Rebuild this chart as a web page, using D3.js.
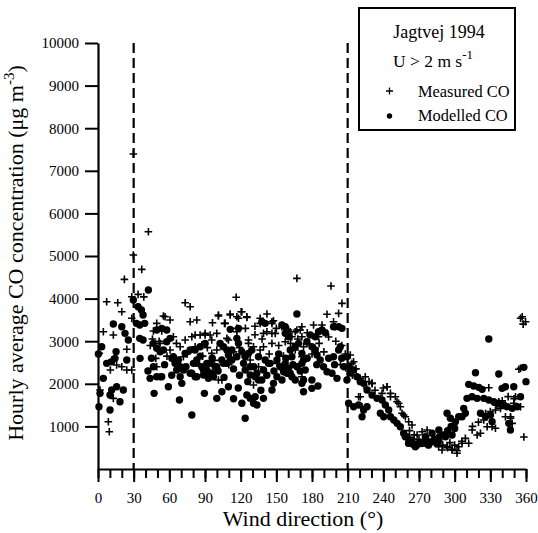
<!DOCTYPE html>
<html>
<head>
<meta charset="utf-8">
<script src="https://cdn.jsdelivr.net/npm/d3@7"></script>
<style>
  body { margin: 0; background: #fff; }
  svg { display: block; }
  text { font-family: "Liberation Serif", "Times New Roman", serif; fill: #000; }
</style>
</head>
<body>
<svg id="chart" width="538" height="533"></svg>
<script>
// ---------- data ----------
const xTicks = [0, 30, 60, 90, 120, 150, 180, 210, 240, 270, 300, 330, 360];
const yTicks = [1000, 2000, 3000, 4000, 5000, 6000, 7000, 8000, 9000, 10000];
const sectorBounds = [30, 210];

// Measured CO: [wind direction (deg), concentration (ug/m3)]
const measuredCO = [
[29.7,7393],[42.4,5570],[29.7,5022],[36.8,4687],[22.2,4452],[7.3,3927],[16.6,3903],[20,3692],[28.4,4044],[33.7,4100],[38.5,4040],[28.4,3537],[4.5,3223],[12.9,3145],[24.2,2810],[73.3,3903],[77.5,3810],[77.5,3457],[83.1,3497],[55,3590],[60.6,3497],[49.4,3419],[46.6,3240],[53.6,3240],[45.8,3050],[51.4,3000],[1.1,2715],[11.5,2558],[15.7,2441],[20,2401],[24.2,2323],[28.4,2323],[10.4,2323],[1.7,1854],[12.9,1659],[8.7,1110],[9.5,875],[52.2,2950],[60.6,2793],[63.4,3105],[69.1,2870],[71.8,2636],[73.3,3028],[78.9,3105],[81.7,2870],[49.4,2401],[52.2,2166],[48.6,2598],
[167.3,4475],[116.2,4030],[101.3,3615],[111.2,3638],[120.4,3692],[96.3,3434],[106.4,3419],[118.2,3537],[125.2,3560],[136.4,3537],[142.1,3638],[147.6,3481],[142.1,3223],[149.1,3184],[146.3,3419],[154.7,3340],[160.3,3262],[165.9,3223],[170.1,3262],[81.7,3145],[85.9,3145],[90.1,3145],[94.3,3145],[87.3,2910],[95.7,2715],[99.9,2793],[109.7,3028],[116.8,3302],[126.6,2950],[130.8,2870],[136.4,2793],[139.2,2870],[146.3,2950],[123.8,2636],[128,2558],[135,2401],[150.5,2480],[101.3,2089],[104.2,2089],[130.8,1971],[157.5,2988],[163.1,3105],[171.5,3105],[165.9,2793],[171.5,2636],[171.5,2166],
[196,4295],[205.2,3889],[192.6,3631],[202.4,3654],[181.3,3380],[188.4,3380],[198.1,3457],[199.6,3340],[172.9,2870],[175.7,2950],[182.7,2833],[185.5,3105],[212.2,2676],[213.6,2480],[220.6,2128],[230.5,2011],[238.9,1776],[243.2,1932],[246,1697],[250.1,1697],[252.9,1542],[219.2,1697],[222.1,1462],[255.7,1307],[258.5,1227],
[355.4,3537],[357.6,3400],[358.2,750],[354,2340],[328.7,1908],[338.5,1462],[337.1,1580],[334.3,1385],[342.7,1227],[347,1190],[348.4,1072],[324.5,1150],[327.3,993],[331.5,993],[334.3,955],[314.7,915],[318.9,798],[321.7,838],[309,720],[311.8,603],[306.2,603],[303.4,523],[302,368],[297.8,446],[293.6,523],[289.4,446],[286.5,523],[283.8,603],[261.3,1110],[264.1,1033],[276.8,915],[272.6,875],[268.4,798],[351.2,1697],[349.7,1542],
[56.4,3575],[101.3,3590],[106.9,3419],[111.2,3615],[116.8,3575],[121,3692],[125.2,3575],[136.4,3419],[146.3,3457],[90.1,3184],[95.7,3028],[99.9,3184],[108.4,3067],[116.8,3223],[126.6,3028],[139.2,3184],[146.3,3184],[161.7,3223],[167.3,3262],[171.5,3340],
[215,2518],[219.2,2128],[230.5,2011],[243.2,1932],[246,1776],[237.5,1659],[251.5,1580],[220.6,1697],[254.3,1462],[257.1,1267],[224.8,2166],[338.5,1424],[347,1227],[355.4,1462],[355.4,2363],[356.8,3575],[359.6,3457],
[262,900],[266,800],[270,700],[274,650],[278,700],[282,650],[286,600],[290,560],[294,500],[298,460],[302,430],[306,650],[300,560],[296,620],
[205,2900],[208,2700],[211,2300],[214,2200],[217,2350],[226,1900],[233,1850],[240,1900],[228,2050],
[315,1000],[320,1100],[326,1300],[330,1350],[335,1500],[340,1600],[345,1700],[350,1650],
[44,2900],[58,2650],[66,2950],[75,2700],[84,2600],[92,2850],[98,2550],[103,2900],[114,2750],[119,2850],[124,3300],[132,3150],[138,3050],[144,2700],[152,2900],[156,2650],[162,2950],[168,3050],[176,3200],[180,2700],[186,2950],[190,2750],[194,3100],[200,3000],[204,2450],[132,3350],[150,3300],[110,2450],[88,2650],[68,2450]
];

// Modelled CO: [wind direction (deg), concentration (ug/m3)]
const modelledCO = [
[29.7,3967],[42.4,4201],[33.7,3810],[36.5,3732],[37.9,3615],[39.3,3419],[35.1,3380],[32.3,3419],[12.9,3403],[20,3340],[22.7,3184],[25.5,3028],[35.1,3067],[37.9,3028],[3.1,2870],[0.3,2699],[15.2,2753],[14.3,2598],[7.3,2480],[11.5,2518],[24.2,2558],[35.4,2598],[4.5,2128],[1.7,1776],[0.8,1462],[11.5,1854],[10.1,1737],[15.7,1932],[21.3,1854],[18.5,1580],[10.1,1385],[49.4,3262],[53.6,3302],[57.8,3262],[46.6,2950],[49.4,2833],[52.2,2753],[55,2793],[57.8,2988],[60.6,3067],[46.6,2401],[43.8,2128],[49.4,2166],[53.6,2166],[47.2,1776],[59.2,1932],[62.1,2598],[64.8,2480],[66.2,2323],[69.1,2166],[70.5,2011],[68.5,1619],[73.3,2715],[77.5,2793],[80.3,2480],[83.1,2558],[78.9,2246],[81.7,2166],[78.9,1267],[63.4,2636],[67.6,2558],
[167.3,3638],[111.2,3278],[118.2,3302],[154.7,3380],[157.5,3340],[137.8,3457],[140.6,3419],[102.7,2950],[105.5,2870],[108.4,2793],[109.7,2676],[112.6,2793],[116.8,3067],[118.2,2950],[81.7,2793],[85.9,2870],[90.1,2950],[83.1,2480],[87.3,2401],[91.5,2323],[95.7,2246],[94.3,2480],[98.5,2401],[88.7,2206],[92.9,2128],[97.1,2166],[104.1,2558],[108.4,2480],[112.6,2558],[121,2753],[123.8,2636],[126.6,2715],[129.4,2793],[123.8,2323],[128,2206],[132.2,2166],[135,2089],[137.8,2089],[135,2636],[140.6,2558],[143.4,2480],[147.6,2011],[146.3,1854],[125.2,1737],[128,1659],[130.8,1542],[133.7,1502],[132.2,1697],[121,1542],[139.2,1659],[123.8,1190],[89.5,1776],[99.9,1659],[104.2,1815],[109.7,1932],[153.3,2401],[156.1,2284],[157.5,2480],[160.3,2363],[163.1,2166],[165.9,2089],[158.9,2246],[150.5,2166],[154.7,2089],[161.7,2793],[165.9,2870],[168.7,2950],[163.1,2636],[171.5,2715],[157.5,3184],[160.3,3105],[171.5,2011],[172.9,1815],
[178.5,3145],[182.7,3105],[185.5,3223],[188.4,3262],[191.2,3199],[198.1,3340],[202.4,3340],[205.2,3302],[175.7,2988],[179.9,2870],[182.7,2793],[184.2,2676],[186.9,2558],[189.7,2401],[192.6,2284],[196.8,2246],[201,2128],[198.1,2636],[202.4,2793],[203.8,2870],[171.5,2480],[174.3,2323],[172.9,2089],[179.9,2089],[179.9,1893],[209.4,2636],[210.8,2401],[209.4,2089],[215,2323],[217.8,2166],[220.6,2050],[223.4,2011],[210.8,1542],[215,1462],[219.2,1502],[223.4,1385],[226.3,1462],[222.1,1227],[226.3,1854],[230.5,1737],[234.7,1659],[238.9,1619],[241.7,1502],[244.5,1385],[237.5,1307],[240.3,1227],[246,1227],[248.8,1150],[251.6,1072],[254.3,993],[257.1,838],[259.9,758],[261.3,603],
[328.7,3051],[317.5,2260],[337.1,2230],[349.7,1932],[311.8,1987],[316,1948],[320.3,1917],[323.1,1870],[339.9,1893],[342.7,1932],[310.4,1659],[314.6,1697],[318.9,1659],[324.5,1659],[328.7,1619],[332.9,1580],[337.1,1542],[341.3,1502],[344.1,1462],[348.4,1424],[352.6,1462],[355.4,1697],[307.6,1424],[309,1307],[306.2,1227],[321.7,1307],[325.9,1227],[330.1,1267],[331.5,1110],[345.5,1072],[346.9,915],[293.6,1307],[296.4,1190],[300.6,1110],[303.4,1227],[299.2,993],[258.5,758],[264.1,681],[269.7,603],[275.4,603],[281,641],[286.7,681],[292.3,758],[297.8,798],[286.7,915],[281,838],[275.4,758],[266.9,523],[261.3,603],
[64.8,2558],[69.1,2401],[71.9,2323],[77.5,2246],[83.1,2166],[88.7,2323],[91.5,2480],[94.3,2246],[99.9,2401],[105.5,2480],[111.2,2558],[116.8,2636],[122.4,2480],[128,2401],[133.6,2246],[139.2,2323],[144.8,2480],[150.5,2558],[156.1,2323],[161.7,2246],[167.4,2401],[172.9,2558],
[358.2,2386],[360,2050],
[262,650],[265,580],[268,560],[272,600],[276,640],[279,620],[283,700],[287,750],[290,800],[294,900],[297,1000],[300,950],[285,600],[278,560],
[42,2300],[45,2600],[56,2450],[62,2200],[74,2400],[86,2650],[96,2600],[101,2300],[106,2150],[114,2350],[119,2200],[126,2050],[131,2400],[142,2200],[148,2300],[152,2700],[158,2600],[164,2450],[170,2300],[176,2600],[184,2450],[194,2600],[199,2450],[205,2600],[207,2400],[212,2250],[114,1650],[137,1850],[118,1900],[185,1950]
];

// ---------- chart ----------
const svg = d3.select("#chart");
const x = d3.scaleLinear().domain([0, 360]).range([98, 526]);
const y = d3.scaleLinear().domain([0, 10000]).range([469, 43]);

// dashed sector lines
svg.append("g").selectAll("line").data(sectorBounds).join("line")
  .attr("x1", d => x(d)).attr("x2", d => x(d))
  .attr("y1", y(10000)).attr("y2", y(0))
  .attr("stroke", "#000").attr("stroke-width", 2.2)
  .attr("stroke-dasharray", "10,5");

// x axis: minor ticks
svg.append("g").attr("transform", `translate(0,${y(0)})`)
  .call(d3.axisBottom(x).tickValues(d3.range(0, 361, 10)).tickSize(9).tickSizeOuter(0).tickFormat(""))
  .call(g => g.selectAll("line").attr("stroke-width", 2))
  .call(g => g.select(".domain").attr("stroke-width", 2.2));

// x axis: major ticks + labels
svg.append("g").attr("transform", `translate(0,${y(0)})`)
  .call(d3.axisBottom(x).tickValues(xTicks).tickSize(13).tickSizeOuter(0).tickPadding(10).tickFormat(d3.format("d")))
  .call(g => g.select(".domain").remove())
  .call(g => g.selectAll("line").attr("stroke-width", 2))
  .call(g => g.selectAll("text").attr("font-size", 15).attr("font-family", "Liberation Serif").attr("fill", "#000"));

// y axis
svg.append("g").attr("transform", `translate(${x(0)},0)`)
  .call(d3.axisLeft(y).tickValues(yTicks).tickSize(13).tickSizeOuter(0).tickPadding(6).tickFormat(d3.format("d")))
  .call(g => g.select(".domain").attr("stroke-width", 2.2))
  .call(g => g.selectAll("line").attr("stroke-width", 2))
  .call(g => g.selectAll("text").attr("font-size", 15).attr("font-family", "Liberation Serif").attr("fill", "#000"));

// modelled dots
svg.append("g").selectAll("circle").data(modelledCO).join("circle")
  .attr("cx", d => x(d[0])).attr("cy", d => y(d[1])).attr("r", 3.7).attr("fill", "#000");

// measured crosses
const cs = 3.8;
svg.append("g").selectAll("path").data(measuredCO).join("path")
  .attr("d", d => { const px = x(d[0]), py = y(d[1]);
    return `M${px-cs},${py}H${px+cs}M${px},${py-cs}V${py+cs}`; })
  .attr("stroke", "#000").attr("stroke-width", 1.6).attr("fill", "none");

// axis titles
svg.append("text").attr("x", 303).attr("y", 526).attr("text-anchor", "middle")
  .attr("font-size", 22).text("Wind direction (°)");

const yl = svg.append("text").attr("transform", "translate(23,253) rotate(-90)")
  .attr("text-anchor", "middle").attr("font-size", 22);
yl.append("tspan").text("Hourly average CO concentration (μg m");
yl.append("tspan").attr("font-size", 15).attr("dy", -9).text("-3");
yl.append("tspan").attr("dy", 9).text(")");

// legend
const lg = svg.append("g");
lg.append("rect").attr("x", 359).attr("y", 8).attr("width", 156).attr("height", 122)
  .attr("fill", "#fff").attr("stroke", "#000").attr("stroke-width", 2);
lg.append("text").attr("x", 439).attr("y", 38).attr("text-anchor", "middle").attr("font-size", 18).text("Jagtvej 1994");
const ut = lg.append("text").attr("x", 393).attr("y", 67).attr("font-size", 17.5);
ut.append("tspan").text("U > 2 m s");
ut.append("tspan").attr("font-size", 13).attr("dy", -8).text("-1");
lg.append("path").attr("d", "M386,91H393M389.5,87.5V94.5").attr("stroke", "#000").attr("stroke-width", 1.3);
lg.append("text").attr("x", 418).attr("y", 97).attr("font-size", 16.4).text("Measured CO");
lg.append("circle").attr("cx", 389.5).attr("cy", 116).attr("r", 2.7).attr("fill", "#000");
lg.append("text").attr("x", 418).attr("y", 121).attr("font-size", 16.4).text("Modelled CO");
</script>
</body>
</html>
